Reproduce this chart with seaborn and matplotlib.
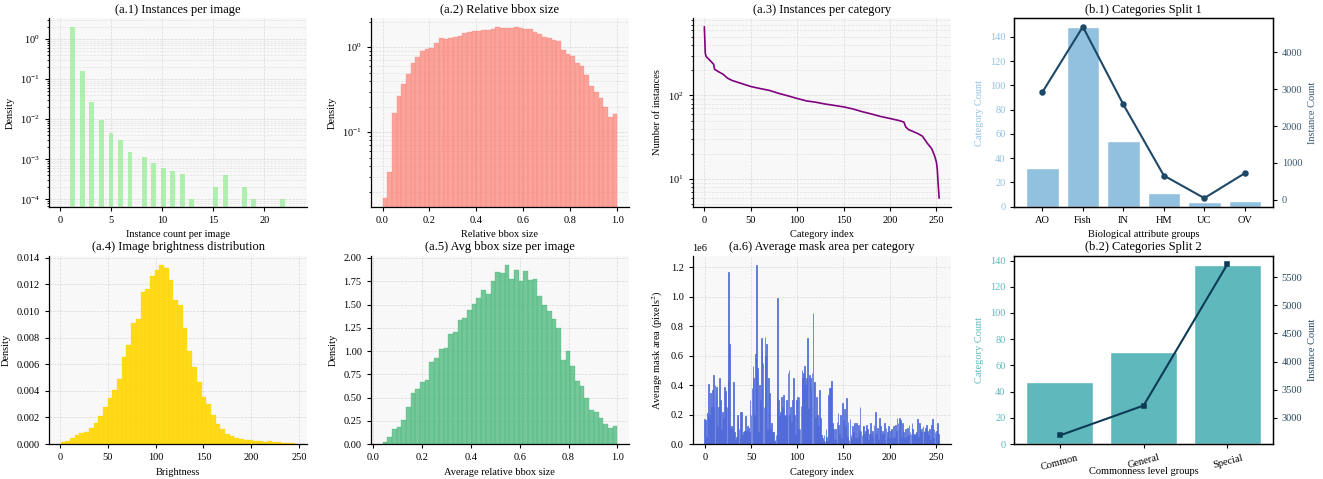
import numpy as np
import matplotlib
matplotlib.use("Agg")
import matplotlib.pyplot as plt
import seaborn as sns

# ---------------- data ----------------
# (a.1) instances per image: count value -> density
inst_count_values = [1, 2, 3, 4, 5, 6, 7, 8, 9, 10, 11, 12, 13, 15, 16, 18, 19, 22]
inst_count_density = [1.95, 0.16, 0.027, 0.0097, 0.0046, 0.0031, 0.00155, 0.00117,
                      0.00081, 0.0006, 0.00051, 0.00042, 0.0001, 0.0002, 0.00041,
                      0.0002, 0.0001, 0.0001]
inst_count_bins = 45
inst_count_range = (1, 22)

# (a.2) relative bbox size histogram (50 bins over 0..1)
rel_bbox_range = (0.0, 1.0)
rel_bbox_density = [0.0167, 0.034, 0.17, 0.27, 0.37, 0.49, 0.65, 0.77, 0.89, 0.955,
                    0.99, 1.12, 1.29, 1.25, 1.29, 1.30, 1.37, 1.45, 1.49, 1.54,
                    1.55, 1.61, 1.58, 1.65, 1.73, 1.67, 1.69, 1.70, 1.73, 1.67,
                    1.65, 1.65, 1.49, 1.43, 1.32, 1.29, 1.22, 1.18, 0.93, 0.835,
                    0.79, 0.65, 0.60, 0.47, 0.35, 0.30, 0.25, 0.20, 0.15, 0.165]

# (a.3) instances per category (sorted)
cat_rank_idx = [0, 1, 2, 5, 10, 11, 15, 20, 25, 30, 40, 50, 60, 70, 80, 90, 100, 110,
                120, 130, 140, 150, 160, 170, 180, 190, 200, 210, 215, 217, 220, 225,
                230, 235, 240, 245, 248, 250, 251, 252, 253]
cat_rank_counts = [664, 320, 291, 271, 236, 206, 193, 180, 161, 151, 139, 128, 121,
                   115, 106, 99, 92, 86, 83, 79, 76, 73, 69, 64, 60, 56, 53, 50, 48,
                   42, 39, 37, 35, 32.5, 27, 23, 19, 16, 13, 8.4, 5.9]

# (a.4) brightness histogram (50 bins)
bright_range = (1, 246)
bright_density = [0.00012, 0.0002, 0.00045, 0.00065, 0.0008, 0.0009, 0.0012, 0.0016,
                  0.0021, 0.0028, 0.00345, 0.00405, 0.0049, 0.00653, 0.00743, 0.0091,
                  0.0094, 0.0114, 0.01165, 0.0126, 0.0131, 0.0135, 0.0132, 0.0123,
                  0.0108, 0.01043, 0.00873, 0.00698, 0.00578, 0.00465, 0.00353,
                  0.00298, 0.00218, 0.0015, 0.00113, 0.00075, 0.0006, 0.00043,
                  0.00035, 0.0003, 0.00028, 0.00025, 0.0002, 0.00018, 0.0002,
                  0.00016, 0.00015, 0.0001, 0.00008, 0.00006]

# (a.5) avg bbox size per image (50 bins)
avg_bbox_range = (0.037, 1.0)
avg_bbox_density = [0.02, 0.08, 0.16, 0.18, 0.26, 0.40, 0.55, 0.59, 0.665, 0.69,
                    0.88, 0.93, 1.02, 1.03, 1.18, 1.20, 1.33, 1.35, 1.44, 1.51,
                    1.57, 1.66, 1.61, 1.75, 1.85, 1.84, 1.93, 1.77, 1.87, 1.75,
                    1.86, 1.76, 1.77, 1.59, 1.49, 1.43, 1.34, 1.25, 0.90, 1.00,
                    0.84, 0.68, 0.62, 0.50, 0.365, 0.34, 0.28, 0.22, 0.17, 0.19]

# (a.6) average mask area per category, in millions of pixels^2
mask_area_millions = [
    0.17, 0.165, 0.05, 0.21, 0.41, 0.20, 0.35, 0.25, 0.37, 0.47,
    0.25, 0.40, 0.34, 0.39, 0.12, 0.25, 0.45, 0.30, 0.10, 0.22,
    0.18, 0.39, 0.36, 0.26, 0.25, 0.43, 1.17, 0.68, 0.11, 0.12,
    0.10, 0.42, 0.08, 0.03, 0.05, 0.20, 0.16, 0.10, 0.04, 0.22,
    0.22, 0.06, 0.08, 0.09, 0.19, 0.09, 0.12, 0.11, 0.08, 0.30,
    0.20, 0.38, 0.53, 0.45, 0.20, 0.61, 1.22, 0.52, 0.08, 0.40,
    0.30, 0.72, 0.63, 0.55, 0.25, 0.73, 0.60, 0.68, 0.10, 0.45,
    0.35, 0.10, 0.14, 0.08, 0.08, 0.02, 0.03, 0.06, 0.31, 0.99,
    0.30, 0.19, 0.22, 0.32, 0.25, 0.33, 0.20, 0.19, 0.30, 0.20,
    0.48, 0.50, 0.20, 0.25, 0.15, 0.30, 0.45, 0.20, 0.07, 0.30,
    0.32, 0.10, 0.32, 0.10, 0.26, 0.50, 0.45, 0.48, 0.53, 0.40,
    0.45, 0.72, 0.24, 0.47, 0.45, 0.38, 0.48, 0.89, 0.42, 0.42,
    0.18, 0.32, 0.20, 0.12, 0.37, 0.18, 0.06, 0.04, 0.02, 0.06,
    0.02, 0.10, 0.05, 0.02, 0.33, 0.38, 0.38, 0.43, 0.14, 0.10,
    0.03, 0.10, 0.03, 0.15, 0.21, 0.13, 0.07, 0.20, 0.04, 0.28,
    0.16, 0.24, 0.12, 0.31, 0.05, 0.15, 0.03, 0.17, 0.06, 0.04,
    0.12, 0.08, 0.14, 0.04, 0.14, 0.05, 0.13, 0.09, 0.25, 0.09,
    0.06, 0.12, 0.12, 0.07, 0.09, 0.13, 0.10, 0.03, 0.07, 0.14,
    0.07, 0.09, 0.05, 0.13, 0.07, 0.22, 0.07, 0.11, 0.03, 0.18,
    0.12, 0.07, 0.09, 0.07, 0.14, 0.03, 0.11, 0.05, 0.08, 0.12,
    0.04, 0.09, 0.10, 0.04, 0.12, 0.05, 0.13, 0.09, 0.18, 0.14,
    0.10, 0.18, 0.16, 0.05, 0.14, 0.08, 0.04, 0.10, 0.05, 0.11,
    0.06, 0.13, 0.08, 0.07, 0.14, 0.10, 0.06, 0.07, 0.06, 0.08,
    0.17, 0.05, 0.14, 0.10, 0.08, 0.11, 0.12, 0.09, 0.08, 0.11,
    0.13, 0.09, 0.06, 0.10, 0.03, 0.13, 0.17, 0.04, 0.10, 0.08,
    0.07, 0.09, 0.14, 0.07]
mask_cat_idx = list(range(len(mask_area_millions)))

# (b.1) biological attribute groups
bio_groups = ["AO", "Fish", "IN", "HM", "UC", "OV"]
bio_cat_counts = [32, 148, 54, 11, 4, 5]
bio_inst_counts = [2920, 4694, 2586, 658, 45, 721]

# (b.2) commonness level groups
common_groups = ["Common", "General", "Special"]
common_cat_counts = [47, 70, 137]
common_inst_counts = [2687, 3218, 5730]

# ---------------- style ----------------
sns.set_style("ticks")
plt.rcParams.update({
    "font.family": ["Liberation Serif", "DejaVu Serif"],
    "mathtext.fontset": "stix",
    "axes.edgecolor": "black", "axes.labelcolor": "black", "text.color": "black",
    "xtick.color": "black", "ytick.color": "black",
    "axes.linewidth": 0.9,
    "xtick.major.size": 3, "ytick.major.size": 3,
    "xtick.minor.size": 1.8, "ytick.minor.size": 1.8,
    "xtick.major.width": 0.8, "ytick.major.width": 0.8,
    "xtick.minor.width": 0.6, "ytick.minor.width": 0.6,
    "xtick.labelsize": 7.5, "ytick.labelsize": 7.5,
    "axes.labelsize": 7.5, "axes.titlesize": 9,
    "axes.titlepad": 4,
})

fig, axes = plt.subplots(2, 4, figsize=(13.23, 4.79), dpi=100)
fig.subplots_adjust(left=0.037, right=0.962, top=0.962, bottom=0.073,
                    wspace=0.246, hspace=0.259)

BG = "#f8f8f8"


def style_a(ax, logy=False):
    ax.set_facecolor(BG)
    ax.set_axisbelow(True)
    ax.grid(True, which="major", linestyle="--", linewidth=0.5, color="#d9d9d9")
    if logy:
        ax.grid(True, which="minor", axis="y", linestyle="--", linewidth=0.5,
                color="#e2e2e2")
    sns.despine(ax=ax)


def bin_centers(rng, n):
    e = np.linspace(rng[0], rng[1], n + 1)
    return (e[:-1] + e[1:]) / 2


# (a.1)
ax = axes[0, 0]
sns.histplot(x=inst_count_values, weights=inst_count_density, bins=inst_count_bins,
             binrange=inst_count_range, stat="count", color="lightgreen", alpha=0.7,
             edgecolor="none", linewidth=0, ax=ax)
ax.set_yscale("log")
ax.set_ylim(6.6e-5, 3.3)
ax.set_xlim(-1.1, 24.2)
ax.set_title("(a.1) Instances per image")
ax.set_xlabel("Instance count per image")
ax.set_ylabel("Density")
style_a(ax, logy=True)

# (a.2)
ax = axes[0, 1]
n = len(rel_bbox_density)
sns.histplot(x=bin_centers(rel_bbox_range, n), weights=rel_bbox_density, bins=n,
             binrange=rel_bbox_range, stat="count", color="salmon",
             alpha=0.7, edgecolor="salmon", linewidth=0.2, ax=ax)
ax.set_yscale("log")
ax.set_ylim(0.0133, 2.19)
ax.set_title("(a.2) Relative bbox size")
ax.set_xlabel("Relative bbox size")
ax.set_ylabel("Density")
style_a(ax, logy=True)

# (a.3)
ax = axes[0, 2]
sns.lineplot(x=cat_rank_idx, y=cat_rank_counts, color="purple", linewidth=1.2, ax=ax)
ax.set_yscale("log")
ax.set_title("(a.3) Instances per category")
ax.set_xlabel("Category index")
ax.set_ylabel("Number of instances")
style_a(ax, logy=True)

# (a.4)
ax = axes[1, 0]
n = len(bright_density)
sns.histplot(x=bin_centers(bright_range, n), weights=bright_density, bins=n,
             binrange=bright_range, stat="count", color="gold",
             alpha=0.9, edgecolor="gold", linewidth=0.2, ax=ax)
ax.set_title("(a.4) Image brightness distribution")
ax.set_xlabel("Brightness")
ax.set_ylabel("Density")
style_a(ax)

# (a.5)
ax = axes[1, 1]
n = len(avg_bbox_density)
sns.histplot(x=bin_centers(avg_bbox_range, n), weights=avg_bbox_density, bins=n,
             binrange=avg_bbox_range, stat="count",
             color="mediumseagreen", alpha=0.7, edgecolor="mediumseagreen",
             linewidth=0.2, ax=ax)
ax.set_title("(a.5) Avg bbox size per image")
ax.set_xlabel("Average relative bbox size")
ax.set_ylabel("Density")
style_a(ax)

# (a.6)
ax = axes[1, 2]
mask_area = np.array(mask_area_millions) * 1e6
sns.barplot(x=mask_cat_idx, y=mask_area, native_scale=True, color="#4f6ad8",
            saturation=1, alpha=0.9, width=0.8, errorbar=None,
            edgecolor="#4f6ad8", linewidth=0.6, ax=ax)
ax.set_xlim(-13.2, 266.2)
ax.set_xticks([0, 50, 100, 150, 200, 250])
ax.set_xticklabels(["0", "50", "100", "150", "200", "250"])
ax.set_title("(a.6) Average mask area per category")
ax.set_xlabel("Category index")
ax.set_ylabel("Average mask area (pixels$^2$)")
style_a(ax)

# (b.1)
bar1, line1, lab1 = "#92c0df", "#1d4867", "#3a5670"
ax = axes[0, 3]
sns.barplot(x=bio_groups, y=bio_cat_counts, color=bar1, saturation=1, width=0.8,
            ax=ax)
ax2 = ax.twinx()
sns.pointplot(x=bio_groups, y=bio_inst_counts, color=line1, markers="o",
              markersize=3.5, linewidth=1.5, errorbar=None, ax=ax2)
ax.set_xlim(-0.69, 5.69)
ax.set_title("(b.1) Categories Split 1")
ax.set_xlabel("Biological attribute groups")
ax.set_ylabel("Category Count", color=bar1)
ax.tick_params(axis="y", labelcolor=bar1)
ax2.set_ylabel("Instance Count", color=lab1)
ax2.tick_params(axis="y", labelcolor=lab1)
for s in ax2.spines.values():
    s.set_color("black")

# (b.2)
bar2, line2, lab2 = "#5fb8bc", "#0d3b55", "#24475e"
ax = axes[1, 3]
sns.barplot(x=common_groups, y=common_cat_counts, color=bar2, saturation=1,
            width=0.8, ax=ax)
ax2 = ax.twinx()
sns.pointplot(x=common_groups, y=common_inst_counts, color=line2, markers="s",
              markersize=3.5, linewidth=1.5, errorbar=None, ax=ax2)
ax.set_xlim(-0.54, 2.54)
ax.set_title("(b.2) Categories Split 2")
ax.set_xlabel("Commonness level groups", labelpad=-3)
ax.set_ylabel("Category Count", color=bar2)
ax.tick_params(axis="y", labelcolor=bar2)
ax.tick_params(axis="x", labelrotation=15)
ax2.set_ylabel("Instance Count", color=lab2)
ax2.tick_params(axis="y", labelcolor=lab2)
for s in ax2.spines.values():
    s.set_color("black")

fig.savefig("out.png", dpi=100)
